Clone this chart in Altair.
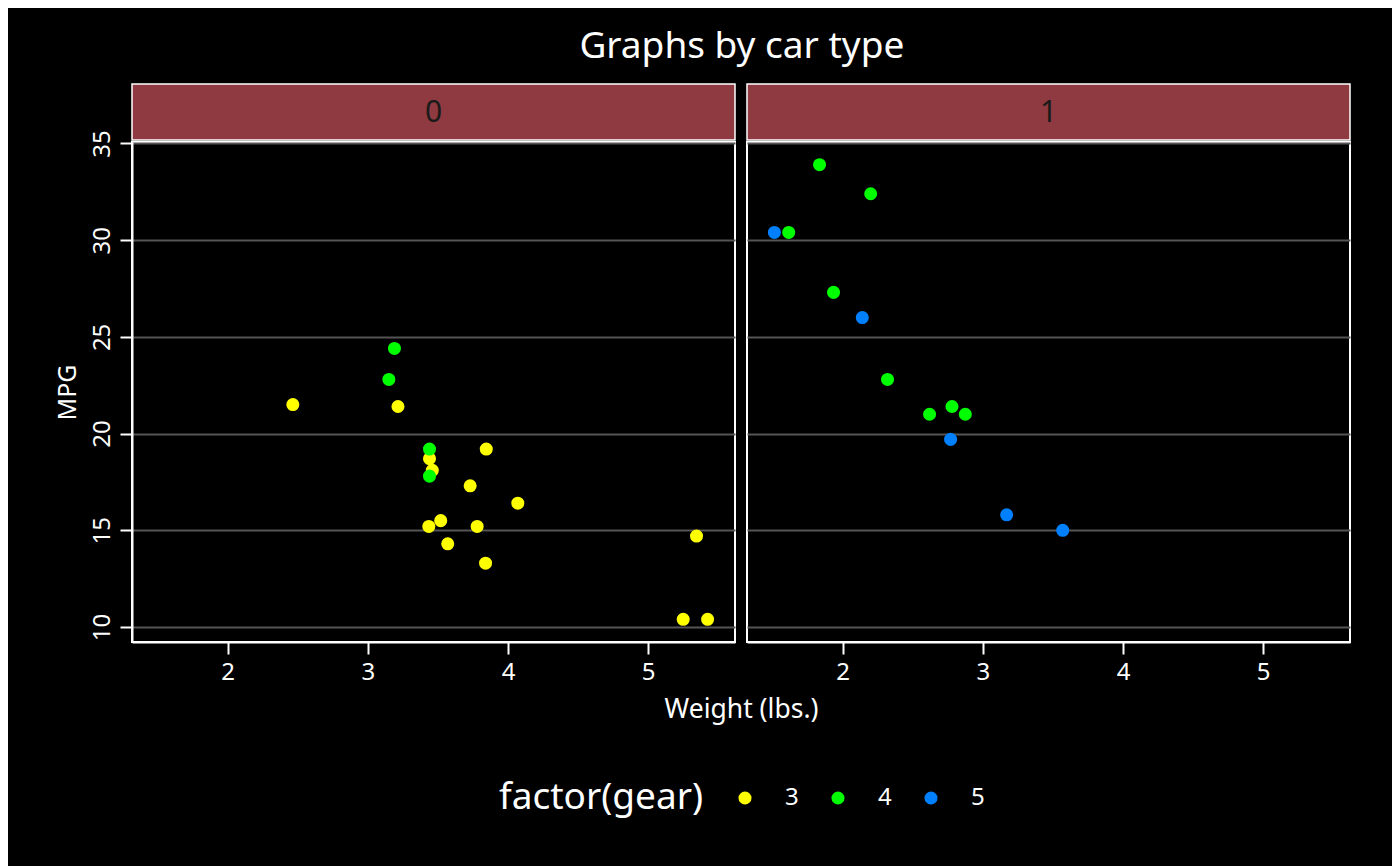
import altair as alt
import pandas as pd

# mtcars values
wt = [2.620, 2.875, 2.320, 3.215, 3.440, 3.460, 3.570, 3.190, 3.150, 3.440, 3.440,
      4.070, 3.730, 3.780, 5.250, 5.424, 5.345, 2.200, 1.615, 1.835, 2.465, 3.520,
      3.435, 3.840, 3.845, 1.935, 2.140, 1.513, 3.170, 2.770, 3.570, 2.780]
mpg = [21.0, 21.0, 22.8, 21.4, 18.7, 18.1, 14.3, 24.4, 22.8, 19.2, 17.8, 16.4, 17.3,
       15.2, 10.4, 10.4, 14.7, 32.4, 30.4, 33.9, 21.5, 15.5, 15.2, 13.3, 19.2, 27.3,
       26.0, 30.4, 15.8, 19.7, 15.0, 21.4]
am = [1, 1, 1, 0, 0, 0, 0, 0, 0, 0, 0, 0, 0, 0, 0, 0, 0, 1, 1, 1, 0, 0, 0, 0, 0, 1,
      1, 1, 1, 1, 1, 1]
gear = [4, 4, 4, 3, 3, 3, 3, 4, 4, 4, 4, 3, 3, 3, 3, 3, 3, 4, 4, 4, 3, 3, 3, 3, 3, 4,
        5, 5, 5, 5, 5, 4]

gear_levels = ["3", "4", "5"]
gear_colors = ["#ffff00", "#00ff00", "#0080ff"]
facet_labels = ["0", "1"]
x_ticks = [2, 3, 4, 5]
y_ticks = [10, 15, 20, 25, 30, 35]

df = pd.DataFrame({"wt": wt, "mpg": mpg, "am": [str(a) for a in am],
                   "gear": [str(g) for g in gear]})

FONT = "Noto Sans"
W = 603
H = 500
PT = 170

xs = alt.Scale(domain=[1.3175, 5.6195], nice=False, zero=False)
ys = alt.Scale(domain=[9.225, 35.075], nice=False, zero=False)
color = alt.Color(
    "gear:N",
    scale=alt.Scale(domain=gear_levels, range=gear_colors),
    legend=alt.Legend(
        title="factor(gear)", orient="none", legendX=367, legendY=644,
        direction="horizontal",
        titleOrient="left", titleFontSize=37, titleColor="white", titleFont=FONT,
        titleFontWeight="normal", titlePadding=29, titleBaseline="middle",
        titleLimit=500,
        labelFontSize=24, labelColor="white", labelFont=FONT, labelOffset=28,
        columnPadding=27, symbolType="circle", symbolSize=PT, symbolStrokeWidth=0,
    ),
)


def panel(label, first):
    if first:
        xaxis = alt.Axis(values=x_ticks, grid=False, title="Weight (lbs.)",
                         titleX=W + 6, titleFontSize=26.5, titlePadding=12)
        yaxis = alt.Axis(values=y_ticks, grid=True, title="MPG", labelAngle=270,
                         labelAlign="center", labelBaseline="bottom",
                         labelPadding=6, titleFontSize=25, titlePadding=10)
    else:
        xaxis = alt.Axis(values=x_ticks, grid=False, title=None)
        yaxis = alt.Axis(values=y_ticks, grid=True, title=None, labels=False,
                         ticks=False, domain=False)
    sdf = pd.DataFrame({"lab": [label]})
    rect = alt.Chart(sdf).mark_rect(fill="#8f3a40", stroke="white",
                                    strokeWidth=1.5).encode(
        x=alt.value(0), x2=alt.value(W), y=alt.value(-58), y2=alt.value(-2))
    txt = alt.Chart(sdf).mark_text(fontSize=30, font=FONT, color="#1a1a1a").encode(
        x=alt.value(W / 2), y=alt.value(-29), text="lab:N")
    pts = alt.Chart(df).transform_filter(alt.datum.am == label).mark_circle(
        size=PT, opacity=1).encode(
        x=alt.X("wt:Q", scale=xs, axis=xaxis),
        y=alt.Y("mpg:Q", scale=ys, axis=yaxis),
        color=color,
    )
    return alt.layer(pts, rect, txt).properties(width=W, height=H)


chart = alt.hconcat(*[panel(lab, i == 0) for i, lab in enumerate(facet_labels)],
                    spacing=12, bounds="flush").properties(
    title=alt.TitleParams("Graphs by car type", fontSize=37, color="white",
                          font=FONT, fontWeight="normal", anchor="middle",
                          dx=39, offset=16),
    background="black",
    padding={"left": 46, "top": 20, "right": 40, "bottom": 52},
).configure_view(stroke="white", strokeWidth=2).configure_axis(
    domainColor="white", domainWidth=2, tickColor="white", tickWidth=2,
    tickSize=12, labelColor="white", labelFont=FONT, labelFontSize=24,
    titleColor="white", titleFont=FONT, titleFontWeight="normal",
    gridColor="#555555", gridWidth=2,
).configure_axisX(labelPadding=6)

chart.save("out.html", embed_options={"renderer": "svg", "actions": False})
